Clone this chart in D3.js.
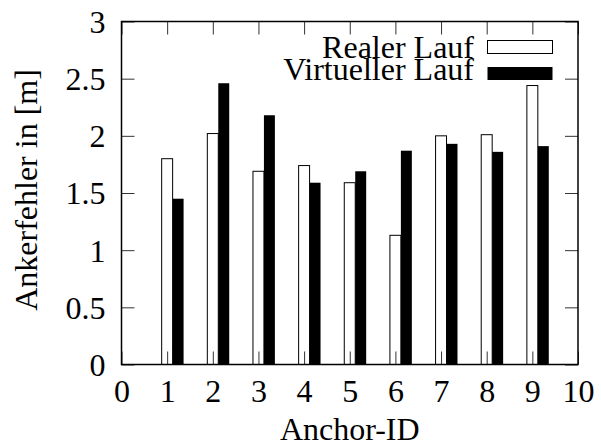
<!DOCTYPE html>
<html>
<head>
<meta charset="utf-8">
<script src="https://cdn.jsdelivr.net/npm/d3@7"></script>
<style>
  @font-face {
    font-family: "RefSerif";
    src: local("Liberation Serif"), local("LiberationSerif"), local("LiberationSerif-Regular"),
         local("DejaVu Serif"), local("DejaVuSerif"), local("Noto Serif"), local("NotoSerif-Regular"),
         local("Tinos"), local("Nimbus Roman"), local("FreeSerif"), local("Times New Roman");
  }
  html, body { margin: 0; padding: 0; background: #fff; }
  svg { display: block; }
</style>
</head>
<body>
<svg id="chart" width="601" height="447"></svg>
<script>
// ---- data ----
const anchors = [1, 2, 3, 4, 5, 6, 7, 8, 9];
const realerLauf = [1.80, 2.02, 1.69, 1.74, 1.59, 1.13, 2.00, 2.01, 2.44];
const virtuellerLauf = [1.45, 2.46, 2.18, 1.59, 1.69, 1.87, 1.93, 1.86, 1.91];
const seriesNames = ["Realer Lauf", "Virtueller Lauf"];
const xTicks = [0, 1, 2, 3, 4, 5, 6, 7, 8, 9, 10];
const yTicks = [0, 0.5, 1, 1.5, 2, 2.5, 3];
const xLabel = "Anchor-ID";
const yLabel = "Ankerfehler in [m]";

// ---- layout ----
const W = 601, H = 447;
const L = 121.5, R = 578, T = 21.5, B = 364.5;
const FONT = "'Liberation Serif', RefSerif, 'DejaVu Serif', 'Noto Serif', serif";
const barW = 0.24;

const svg = d3.select("#chart");
svg.append("rect").attr("width", W).attr("height", H).attr("fill", "#fff");

// pick font size so the legend label width matches the reference (~201 px)
const probe = svg.append("text").attr("font-family", FONT).attr("font-size", 100).text(seriesNames[1]);
const wProbe = probe.node().getComputedTextLength();
probe.remove();
const fs = Math.min(32, Math.max(20, 201 / wProbe * 100));

const x = d3.scaleLinear().domain([0, 10]).range([L, R]);
const y = d3.scaleLinear().domain([0, 3]).range([B, T]);

const rows = anchors.map((a, i) => ({ a, real: realerLauf[i], virt: virtuellerLauf[i] }));

// bars: real (white, outlined)
svg.append("g").selectAll("rect").data(rows).join("rect")
  .attr("x", d => x(d.a - barW / 2))
  .attr("width", d => x(d.a + barW / 2) - x(d.a - barW / 2))
  .attr("y", d => y(d.real))
  .attr("height", d => y(0) - y(d.real))
  .attr("fill", "#fff").attr("stroke", "#000").attr("stroke-width", 1);

// bars: virtual (black)
svg.append("g").selectAll("rect").data(rows).join("rect")
  .attr("x", d => x(d.a + barW / 2))
  .attr("width", d => x(d.a + 1.5 * barW) - x(d.a + barW / 2))
  .attr("y", d => y(d.virt))
  .attr("height", d => y(0) - y(d.virt))
  .attr("fill", "#000");

// axes (inward ticks, mirrored)
const tk = 13;
const gL = svg.append("g").attr("transform", `translate(${L},0)`)
  .call(d3.axisLeft(y).tickValues(yTicks).tickSize(-tk).tickPadding(16).tickFormat(d3.format("")));
const gB = svg.append("g").attr("transform", `translate(0,${B})`)
  .call(d3.axisBottom(x).tickValues(xTicks).tickSize(-tk).tickPadding(8).tickFormat(d3.format("")));
const gT = svg.append("g").attr("transform", `translate(0,${T})`)
  .call(d3.axisTop(x).tickValues(xTicks).tickSize(-tk).tickFormat(""));
const gR = svg.append("g").attr("transform", `translate(${R},0)`)
  .call(d3.axisRight(y).tickValues(yTicks).tickSize(-tk).tickFormat(""));

[gL, gB, gT, gR].forEach(g => {
  g.attr("font-family", FONT).attr("font-size", fs);
  g.select(".domain").remove();
  g.selectAll(".tick line").attr("stroke", "#333").attr("stroke-width", 1);
  g.selectAll("text").attr("fill", "#000");
});
gL.selectAll("text").attr("dy", "0.34em");
gB.selectAll("text").attr("dy", "0").attr("y", 37);

// frame
svg.append("rect").attr("x", L).attr("y", T).attr("width", R - L).attr("height", B - T)
  .attr("fill", "none").attr("stroke", "#000").attr("stroke-width", 1.5);

// axis titles
svg.append("text").attr("x", (L + R) / 2).attr("y", 440)
  .attr("font-family", FONT).attr("font-size", fs)
  .attr("text-anchor", "middle").text(xLabel);
svg.append("text").attr("transform", `translate(37,${(T + B) / 2 - 3}) rotate(-90)`)
  .attr("font-family", FONT).attr("font-size", fs)
  .attr("text-anchor", "middle").text(yLabel);

// legend
const lg = svg.append("g").attr("font-family", FONT).attr("font-size", fs);
const legendRows = [
  { name: seriesNames[0], fill: "#fff", stroke: "#000", ty: 58, by: 40.5 },
  { name: seriesNames[1], fill: "#000", stroke: "none", ty: 80, by: 67 }
];
legendRows.forEach(r => {
  lg.append("text").attr("x", 474).attr("y", r.ty).attr("text-anchor", "end").text(r.name);
  lg.append("rect").attr("x", 487.5).attr("y", r.by).attr("width", 65).attr("height", 13)
    .attr("fill", r.fill).attr("stroke", r.stroke).attr("stroke-width", 1);
});
</script>
</body>
</html>
